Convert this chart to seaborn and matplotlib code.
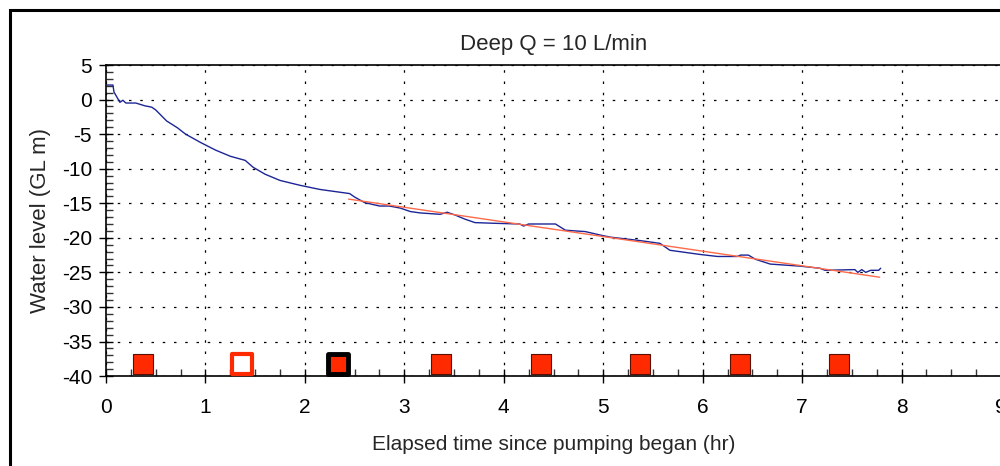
import matplotlib
matplotlib.use("Agg")
import matplotlib.pyplot as plt
from matplotlib.patches import Rectangle
from matplotlib.ticker import MultipleLocator
import seaborn as sns
import pandas as pd

# Blue water-level trace (hours, metres)
time_hr = [0.01, 0.07, 0.08, 0.14, 0.17, 0.20, 0.30, 0.39, 0.46, 0.50, 0.61, 0.72, 0.80,
           0.95, 1.10, 1.25, 1.40, 1.48, 1.60, 1.75, 1.95, 2.15, 2.45, 2.50, 2.60, 2.75,
           2.85, 2.96, 3.06, 3.16, 3.36, 3.43, 3.51, 3.61, 3.71, 3.91, 4.16, 4.20, 4.25,
           4.52, 4.62, 4.82, 4.97, 5.07, 5.37, 5.57, 5.67, 5.82, 5.97, 6.15, 6.35, 6.38,
           6.46, 6.53, 6.68, 6.98, 7.18, 7.23, 7.53, 7.56, 7.60, 7.64, 7.69, 7.77, 7.79]
level_m = [2.1, 2.1, 1.1, -0.4, -0.1, -0.5, -0.5, -0.9, -1.1, -1.5, -3.1, -4.1, -5.0,
           -6.2, -7.3, -8.2, -8.8, -9.8, -10.8, -11.7, -12.4, -13.0, -13.6, -14.1, -14.9, -15.4,
           -15.4, -15.7, -16.2, -16.4, -16.6, -16.3, -16.7, -17.3, -17.8, -17.9, -18.0, -18.3, -18.0,
           -18.0, -18.9, -19.1, -19.6, -19.9, -20.4, -20.8, -21.8, -22.1, -22.4, -22.7, -22.7, -22.5,
           -22.5, -23.1, -23.8, -24.1, -24.4, -24.7, -24.6, -25.0, -24.6, -25.0, -24.7, -24.7, -24.4]

# Red fitted trend line
fit_time = [2.44, 7.78]
fit_level = [-14.4, -25.7]

# Square markers along the bottom
marker_time = [0.37, 1.37, 2.33, 3.37, 4.37, 5.37, 6.38, 7.37]
marker_level = [-38.3] * 8
marker_kind = ["filled", "hollow", "selected", "filled", "filled", "filled", "filled", "filled"]

title = "Deep Q = 10 L/min"
xlabel = "Elapsed time since pumping began (hr)"
ylabel = "Water level (GL m)"

sns.set_theme(style="white")
plt.rcParams["font.family"] = ["Liberation Sans", "DejaVu Sans"]
plt.rcParams["axes.unicode_minus"] = False

fig = plt.figure(figsize=(10, 4.66), dpi=100)
ax = fig.add_axes([0.106, 0.193, 0.895, 0.6675])

df = pd.DataFrame({"t": time_hr, "h": level_m})
sns.lineplot(data=df, x="t", y="h", ax=ax, color="#1c2596", lw=1.0,
             estimator=None, sort=False)
fit = pd.DataFrame({"t": fit_time, "h": fit_level})
sns.lineplot(data=fit, x="t", y="h", ax=ax, color="#ff6a4a", lw=1.0, estimator=None)

mk = pd.DataFrame({"t": marker_time, "h": marker_level, "k": marker_kind})
styles = {
    "filled": dict(facecolor="#ff2a00", edgecolor="#5a1000", linewidth=0.8),
    "hollow": dict(facecolor="white", edgecolor="#ff2a00", linewidth=3.0),
    "selected": dict(facecolor="#ff2a00", edgecolor="black", linewidth=3.5),
}
for kind, st in styles.items():
    sub = mk[mk["k"] == kind]
    sns.scatterplot(data=sub, x="t", y="h", ax=ax, marker="s", s=210, zorder=5, **st)

ax.set_xlim(0, 9)
ax.set_ylim(-40, 5)
ax.xaxis.set_major_locator(MultipleLocator(1))
ax.xaxis.set_minor_locator(MultipleLocator(0.25))
ax.yaxis.set_major_locator(MultipleLocator(5))
ax.yaxis.set_minor_locator(MultipleLocator(1))
ax.tick_params(which="major", direction="inout", length=10, width=1, colors="black",
               labelsize=15, pad=5)
ax.tick_params(axis="x", which="major", pad=11)
ax.tick_params(which="minor", direction="in", length=5, width=1, colors="#333333")
ax.tick_params(axis="both", which="both", bottom=True, left=True)
ax.grid(True, which="major", color="black", linestyle=(0, (2, 7)), linewidth=0.9)
for s in ax.spines.values():
    s.set_color("black")
    s.set_linewidth(1.2)

ax.set_title(title, fontsize=16, pad=11)
ax.set_xlabel(xlabel, fontsize=15, labelpad=13)
ax.set_ylabel(ylabel, fontsize=16, labelpad=8)

fig.patches.append(Rectangle((0.01, -0.05), 1.2, 1.0285, transform=fig.transFigure,
                             fill=False, edgecolor="black", linewidth=2.2, zorder=10))

fig.savefig("out.png", dpi=100)
